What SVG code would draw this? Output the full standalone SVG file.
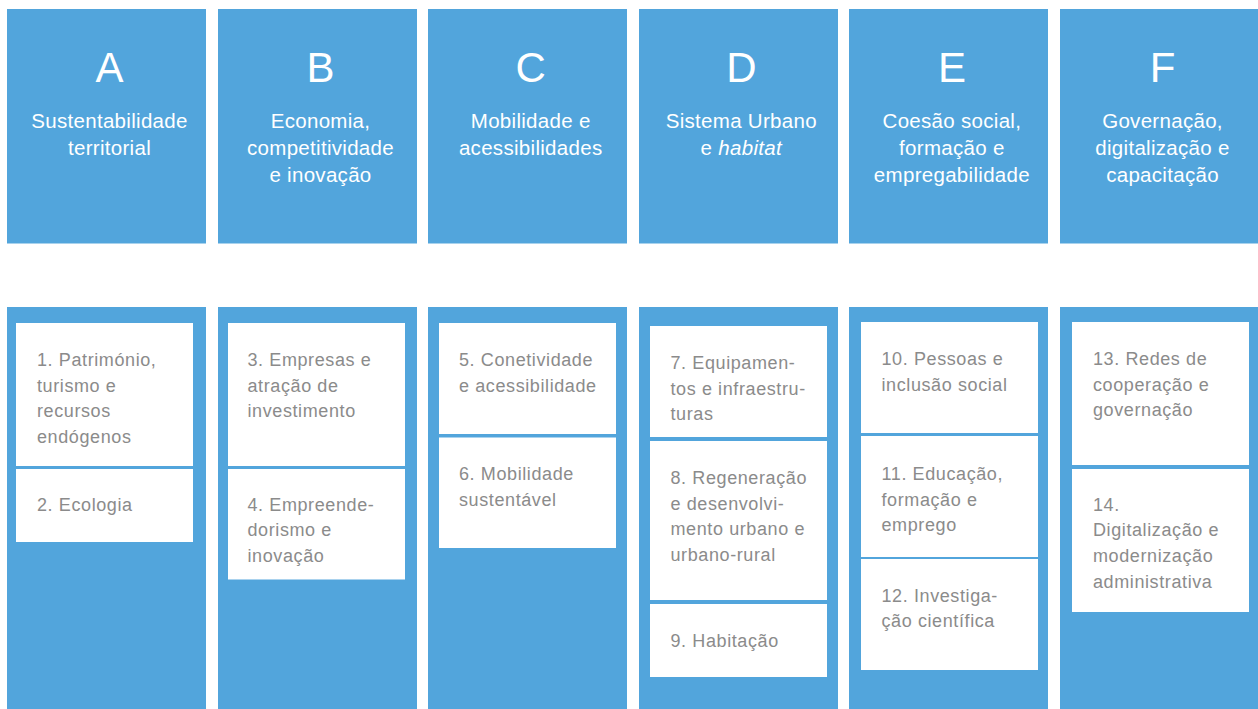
<svg xmlns="http://www.w3.org/2000/svg" width="1258" height="709" viewBox="0 0 1258 709">
<style>
.bl{fill:#52a5dc}
.wb{fill:#ffffff}
.let{font-family:"Liberation Sans",Arial,sans-serif;font-size:42px;fill:#ffffff;text-anchor:middle}
.hd{font-family:"Liberation Sans",Arial,sans-serif;font-size:20.5px;fill:#ffffff;text-anchor:middle;letter-spacing:0.3px}
.it{font-family:"Liberation Sans",Arial,sans-serif;font-size:18px;fill:#8b8b8b;letter-spacing:0.6px}
</style>
<rect width="1258" height="709" fill="#ffffff"/>
<g id="header-A"><rect class="bl" x="7" y="9" width="199" height="234.5"/><text class="let" x="109.5" y="82">A</text><text class="hd" x="109.5" y="127.5"><tspan x="109.5">Sustentabilidade</tspan><tspan x="109.5" dy="27.3">territorial</tspan></text></g>
<g id="header-B"><rect class="bl" x="218" y="9" width="199" height="234.5"/><text class="let" x="320.5" y="82">B</text><text class="hd" x="320.5" y="127.5"><tspan x="320.5">Economia,</tspan><tspan x="320.5" dy="27.3">competitividade</tspan><tspan x="320.5" dy="27.3">e inovação</tspan></text></g>
<g id="header-C"><rect class="bl" x="428" y="9" width="199" height="234.5"/><text class="let" x="530.7" y="82">C</text><text class="hd" x="530.7" y="127.5"><tspan x="530.7">Mobilidade e</tspan><tspan x="530.7" dy="27.3">acessibilidades</tspan></text></g>
<g id="header-D"><rect class="bl" x="639" y="9" width="199" height="234.5"/><text class="let" x="741.3" y="82">D</text><text class="hd" x="741.3" y="127.5"><tspan x="741.3">Sistema Urbano</tspan><tspan x="741.3" dy="27.3">e <tspan font-style="italic">habitat</tspan></tspan></text></g>
<g id="header-E"><rect class="bl" x="849" y="9" width="199" height="234.5"/><text class="let" x="951.9" y="82">E</text><text class="hd" x="951.9" y="127.5"><tspan x="951.9">Coesão social,</tspan><tspan x="951.9" dy="27.3">formação e</tspan><tspan x="951.9" dy="27.3">empregabilidade</tspan></text></g>
<g id="header-F"><rect class="bl" x="1060" y="9" width="199" height="234.5"/><text class="let" x="1162.5" y="82">F</text><text class="hd" x="1162.5" y="127.5"><tspan x="1162.5">Governação,</tspan><tspan x="1162.5" dy="27.3">digitalização e</tspan><tspan x="1162.5" dy="27.3">capacitação</tspan></text></g>
<g id="panels">
<rect id="panel-A" class="bl" x="7" y="307" width="199" height="402"/>
<rect id="panel-B" class="bl" x="218" y="307" width="199" height="402"/>
<rect id="panel-C" class="bl" x="428" y="307" width="199" height="402"/>
<rect id="panel-D" class="bl" x="639" y="307" width="199" height="402"/>
<rect id="panel-E" class="bl" x="849" y="307" width="199" height="402"/>
<rect id="panel-F" class="bl" x="1060" y="307" width="199" height="402"/>
</g>
<g id="item-1"><rect class="wb" x="16" y="323" width="177" height="143"/><text class="it" y="366"><tspan x="37">1. Património,</tspan><tspan x="37" dy="25.6">turismo e</tspan><tspan x="37" dy="25.6">recursos</tspan><tspan x="37" dy="25.6">endógenos</tspan></text></g>
<g id="item-2"><rect class="wb" x="16" y="469" width="177" height="73"/><text class="it" x="37" y="510.7">2. Ecologia</text></g>
<g id="item-3"><rect class="wb" x="228" y="323" width="177" height="143"/><text class="it" y="366"><tspan x="247.5">3. Empresas e</tspan><tspan x="247.5" dy="25.6">atração de</tspan><tspan x="247.5" dy="25.6">investimento</tspan></text></g>
<g id="item-4"><rect class="wb" x="228" y="469" width="177" height="110.5"/><text class="it" y="510.7"><tspan x="247.5">4. Empreende-</tspan><tspan x="247.5" dy="25.6">dorismo e</tspan><tspan x="247.5" dy="25.6">inovação</tspan></text></g>
<g id="item-5"><rect class="wb" x="439" y="323" width="177" height="111"/><text class="it" y="366"><tspan x="459">5. Conetividade</tspan><tspan x="459" dy="25.6">e acessibilidade</tspan></text></g>
<g id="item-6"><rect class="wb" x="439" y="437.5" width="177" height="110.5"/><text class="it" y="480"><tspan x="459">6. Mobilidade</tspan><tspan x="459" dy="25.6">sustentável</tspan></text></g>
<g id="item-7"><rect class="wb" x="650" y="326" width="177" height="111"/><text class="it" y="369"><tspan x="670.5">7. Equipamen-</tspan><tspan x="670.5" dy="25.6">tos e infraestru-</tspan><tspan x="670.5" dy="25.6">turas</tspan></text></g>
<g id="item-8"><rect class="wb" x="650" y="441" width="177" height="159"/><text class="it" y="484"><tspan x="670.5">8. Regeneração</tspan><tspan x="670.5" dy="25.6">e desenvolvi-</tspan><tspan x="670.5" dy="25.6">mento urbano e</tspan><tspan x="670.5" dy="25.6">urbano-rural</tspan></text></g>
<g id="item-9"><rect class="wb" x="650" y="604" width="177" height="73"/><text class="it" x="670.5" y="646.7">9. Habitação</text></g>
<g id="item-10"><rect class="wb" x="861" y="322" width="177" height="111"/><text class="it" y="365"><tspan x="881.5">10. Pessoas e</tspan><tspan x="881.5" dy="25.6">inclusão social</tspan></text></g>
<g id="item-11"><rect class="wb" x="861" y="436" width="177" height="121"/><text class="it" y="480"><tspan x="881.5">11. Educação,</tspan><tspan x="881.5" dy="25.6">formação e</tspan><tspan x="881.5" dy="25.6">emprego</tspan></text></g>
<g id="item-12"><rect class="wb" x="861" y="559" width="177" height="111"/><text class="it" y="601.7"><tspan x="881.5">12. Investiga-</tspan><tspan x="881.5" dy="25.6">ção científica</tspan></text></g>
<g id="item-13"><rect class="wb" x="1072" y="322" width="177" height="143"/><text class="it" y="365"><tspan x="1093">13. Redes de</tspan><tspan x="1093" dy="25.6">cooperação e</tspan><tspan x="1093" dy="25.6">governação</tspan></text></g>
<g id="item-14"><rect class="wb" x="1072" y="469" width="177" height="143"/><text class="it" y="510.7"><tspan x="1093">14.</tspan><tspan x="1093" dy="25.6">Digitalização e</tspan><tspan x="1093" dy="25.6">modernização</tspan><tspan x="1093" dy="25.6">administrativa</tspan></text></g>
<g id="connectors"/>
</svg>
